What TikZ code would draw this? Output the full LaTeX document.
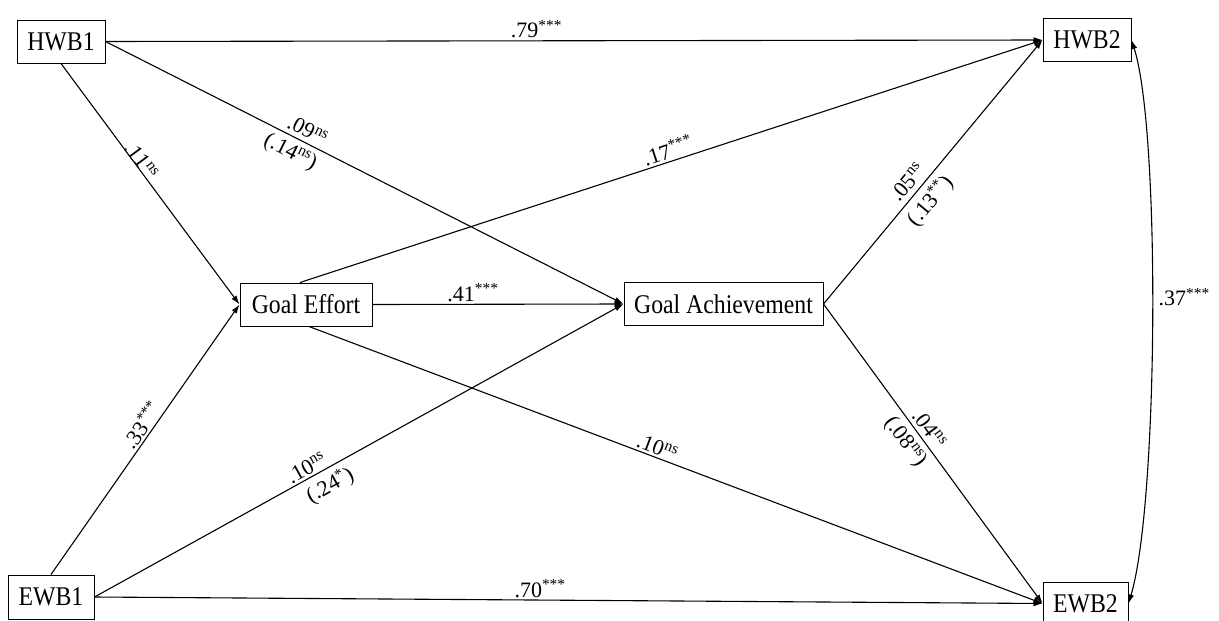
\documentclass[tikz,border=0pt]{standalone}
\usepackage{fontspec}
\setmainfont{Liberation Serif}[FakeStretch=0.88]
\newfontfamily\labfont{Liberation Serif}
\usetikzlibrary{arrows.meta,calc}
\tikzset{
  box/.style={draw, line width=1pt, minimum height=43pt, inner sep=0pt, font=\fontsize{27}{30}\selectfont},
  arr/.style={line width=1.1pt, -{Latex[length=9pt,width=6pt]}},
  lab/.style={font=\labfont\fontsize{22}{24}\selectfont, inner sep=2pt},
}
\newcommand\sg[1]{\textsuperscript{#1}}
\begin{document}
\begin{tikzpicture}[x=1pt,y=-1pt]
\useasboundingbox[fill=white] (0,0) rectangle (1219,621);
\node[box, minimum width=88pt] (HWB1) at (61,41.5) {HWB1};
\node[box, minimum width=88pt] (HWB2) at (1087,40) {HWB2};
\node[box, minimum width=86pt, minimum height=44pt] (EWB1) at (51,597) {EWB1};
\node[box, minimum width=85pt] (EWB2) at (1085.5,603.5) {EWB2};
\node[box, minimum width=132pt] (GE) at (306,304.5) {Goal Effort};
\node[box, minimum width=199pt] (GA) at (723.5,304) {Goal Achievement};

% from HWB1
\draw[arr] (HWB1.east) -- node[lab, above, pos=0.46] {.79\sg{***}} (HWB2.west);
\draw[arr] (HWB1.east) -- node[lab, above=2pt, sloped, pos=0.38] {.09\sg{ns}}
                          node[lab, below=3pt, sloped, pos=0.37] {(.14\sg{ns})} (GA.west);
\draw[arr] (HWB1.south) -- node[lab, above=-3pt, sloped, pos=0.42] {.11\sg{ns}} (GE.west);

% from Goal Effort
\draw[arr] ($(GE.north)+(-6,0)$) -- node[lab, above, sloped, pos=0.5] {.17\sg{***}} (HWB2.west);
\draw[arr] (GE.east) -- node[lab, above, pos=0.4] {.41\sg{***}} (GA.west);
\draw[arr] ($(GE.south)+(3,0)$) -- node[lab, above=0pt, sloped, pos=0.47] {.10\sg{ns}} (EWB2.west);

% from Goal Achievement
\draw[arr] (GA.east) -- node[lab, above=3pt, sloped, pos=0.43] {.05\sg{ns}}
                        node[lab, below=3pt, sloped, pos=0.43] {(.13\sg{**})} (HWB2.west);
\draw[arr] (GA.east) -- node[lab, above=2pt, sloped, pos=0.44] {.04\sg{ns}}
                        node[lab, below=3pt, sloped, pos=0.43] {(.08\sg{ns})} (EWB2.west);

% from EWB1
\draw[arr] (EWB1.north) -- node[lab, above=0pt, sloped, pos=0.53] {.33\sg{***}} (GE.west);
\draw[arr] (EWB1.east) -- node[lab, above=0pt, sloped, pos=0.41] {.10\sg{ns}}
                          node[lab, below=3pt, sloped, pos=0.43] {(.24\sg{*})} (GA.west);
\draw[arr] (EWB1.east) -- node[lab, above, pos=0.47] {.70\sg{***}} (EWB2.west);

% covariance
\draw[line width=1.1pt, {Latex[length=9pt,width=6pt]}-{Latex[length=9pt,width=6pt]}]
  (HWB2.east) .. controls +(29,90) and +(30,-100) .. node[lab, right=4pt, pos=0.47] {.37\sg{***}} (EWB2.east);
\end{tikzpicture}
\end{document}
